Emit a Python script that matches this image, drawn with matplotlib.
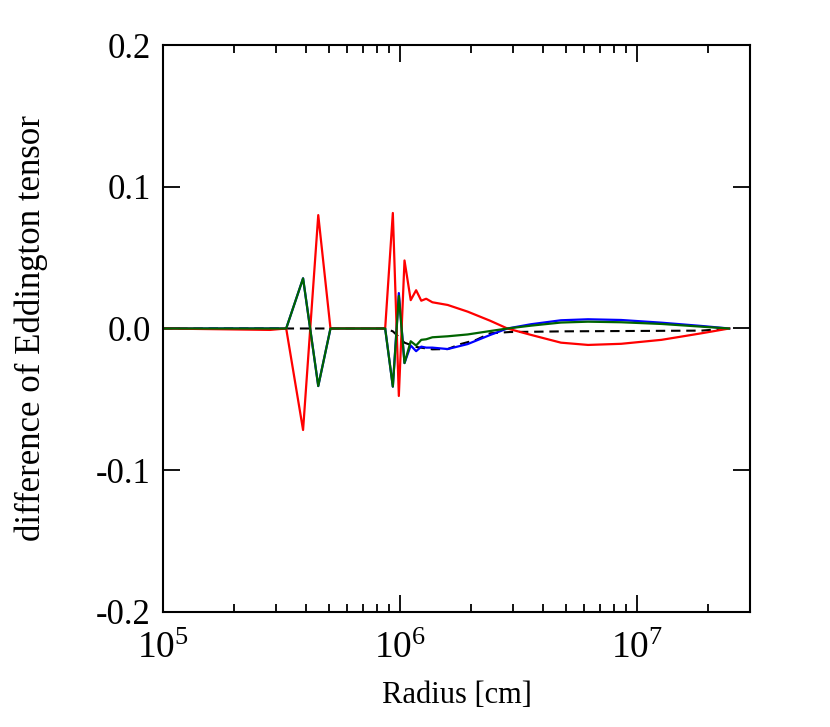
import numpy as np
import matplotlib.pyplot as plt

plt.rcParams['font.family'] = ['Liberation Serif', 'DejaVu Serif']
plt.rcParams['mathtext.fontset'] = 'stix'

# radius grid [cm]
radius = [1.0e5, 2.83e5, 3.31e5, 3.90e5, 4.52e5, 5.09e5, 8.66e5, 9.33e5, 9.89e5,
          1.045e6, 1.11e6, 1.17e6, 1.23e6, 1.29e6, 1.37e6, 1.59e6, 1.93e6, 2.40e6,
          2.84e6, 3.57e6, 4.78e6, 6.22e6, 8.58e6, 1.27e7, 1.87e7, 2.45e7]

# differences of Eddington tensor components
red = [0.0, -0.001, 0.0, -0.0716, 0.080, 0.0, 0.0, 0.0815, -0.0476,
       0.048, 0.020, 0.027, 0.0196, 0.021, 0.0185, 0.0166, 0.0119, 0.0055,
       0.0, -0.0045, -0.0100, -0.0116, -0.0108, -0.0080, -0.0034, 0.0]
blue = [0.0, 0.0, 0.0, 0.0354, -0.0406, 0.0, 0.0, -0.041, 0.025,
        -0.0244, -0.012, -0.016, -0.0128, -0.0135, -0.0135, -0.0145, -0.011, -0.0046,
        0.0, 0.003, 0.0058, 0.0065, 0.0060, 0.0041, 0.0018, 0.0]
green = [0.0, 0.0, 0.0, 0.0354, -0.0406, 0.0, 0.0, -0.041, 0.023,
         -0.0244, -0.009, -0.012, -0.008, -0.0076, -0.0062, -0.0055, -0.0042, -0.0018,
         0.0, 0.002, 0.0042, 0.0048, 0.0044, 0.0032, 0.0013, 0.0]

# reference (dashed)
radius_ref = [1.0e5, 8.66e5, 9.33e5, 9.89e5, 1.045e6, 1.17e6, 1.37e6, 1.59e6,
              1.80e6, 2.10e6, 2.40e6, 2.90e6, 5.0e6, 1.87e7, 2.45e7]
ref = [0.0, 0.0, -0.002, -0.006, -0.010, -0.013, -0.0147, -0.0145,
       -0.011, -0.008, -0.0034, -0.0025, -0.002, -0.0015, 0.0]

fig = plt.figure(figsize=(8.3, 7.27), dpi=100)
ax = fig.add_axes([0.1964, 0.1582, 0.7072, 0.7799])

ax.plot(radius_ref, ref, color='black', lw=1.5, ls=(0, (4.5, 2.8)))
ax.plot(radius, blue, color='#0000ff', lw=1.6)
ax.plot(radius, red, color='#ff0000', lw=1.6)
ax.plot(radius, green, color='#006400', lw=1.6)

ax.set_xscale('log')
ax.set_xlim(1e5, 3e7)
ax.set_ylim(-0.2, 0.2)
ax.set_yticks([-0.2, -0.1, 0.0, 0.1, 0.2])
ax.set_yticklabels(['-0.2', '-0.1', '0.0', '0.1', '0.2'])

ax.tick_params(which='both', direction='in', top=True, right=True, width=1.3,
               labelsize=25)
ax.tick_params(axis='y', pad=9)
ax.tick_params(axis='x', pad=14, labelsize=27)
ax.tick_params(which='major', length=12)
ax.tick_params(which='minor', length=6)
for s in ax.spines.values():
    s.set_linewidth(1.5)

ax.set_xlabel('Radius [cm]', fontsize=22, labelpad=11)
ax.set_ylabel('difference of Eddington tensor', fontsize=25, labelpad=34)

fig.savefig('out.png', dpi=100)
